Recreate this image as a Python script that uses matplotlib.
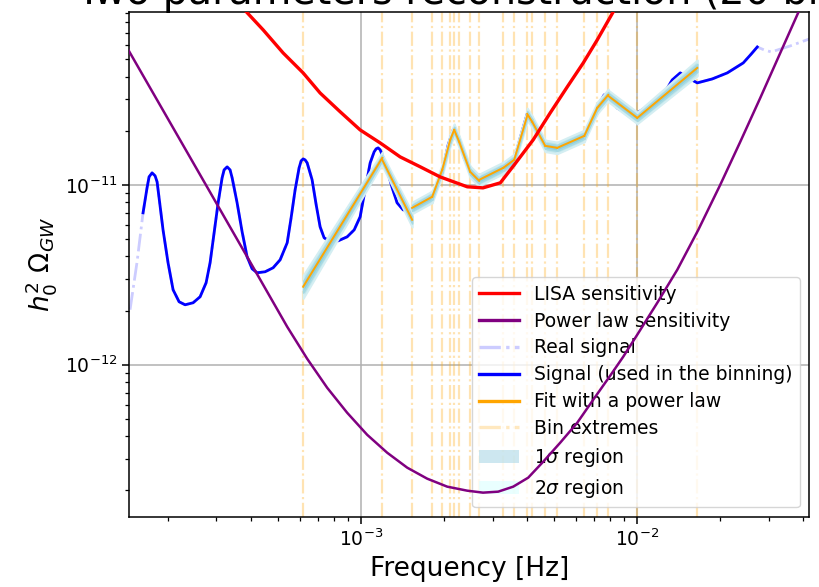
import numpy as np
import matplotlib.pyplot as plt
from matplotlib.patches import Patch
from matplotlib.lines import Line2D

# LISA sensitivity curve (h^2 Omega)
lisa_f = [3.17e-4, 4.43e-4, 5.23e-4, 6.18e-4, 7.12e-4, 8.41e-4, 9.94e-4, 1.175e-3,
          1.388e-3, 1.64e-3, 1.937e-3, 2.43e-3, 2.77e-3, 3.20e-3, 3.62e-3, 4.21e-3,
          4.85e-3, 5.59e-3, 6.39e-3, 7.18e-3, 8.20e-3, 9.07e-3]
lisa_om = [1.26e-10, 7.26e-11, 5.41e-11, 4.19e-11, 3.24e-11, 2.55e-11, 2.02e-11, 1.71e-11,
           1.43e-11, 1.26e-11, 1.107e-11, 9.75e-12, 9.62e-12, 1.026e-11, 1.31e-11, 1.78e-11,
           2.51e-11, 3.50e-11, 4.76e-11, 6.39e-11, 9.14e-11, 1.21e-10]

# power law integrated sensitivity
pls_f = [1.343e-4, 1.459e-4, 2.617e-4, 3.97e-4, 5.41e-4, 6.39e-4, 7.55e-4, 8.92e-4,
         1.054e-3, 1.245e-3, 1.472e-3, 1.739e-3, 2.055e-3, 2.427e-3, 2.77e-3, 3.144e-3,
         3.563e-3, 4.038e-3, 4.576e-3, 5.274e-3, 6.08e-3, 6.945e-3, 8.00e-3, 8.92e-3,
         1.0025e-2, 1.185e-2, 1.40e-2, 1.668e-2, 2.003e-2, 2.367e-2, 2.797e-2, 3.305e-2,
         3.906e-2, 4.426e-2]
pls_om = [6.81e-11, 5.41e-11, 1.137e-11, 3.73e-12, 1.626e-12, 1.08e-12, 7.45e-13, 5.41e-13,
          4.08e-13, 3.245e-13, 2.678e-13, 2.326e-13, 2.10e-13, 1.995e-13, 1.945e-13, 1.97e-13,
          2.10e-13, 2.356e-13, 2.89e-13, 3.687e-13, 4.762e-13, 6.39e-13, 8.69e-13, 1.108e-12,
          1.468e-12, 2.21e-12, 3.373e-12, 5.62e-12, 1.0e-11, 1.734e-11, 3.043e-11, 5.41e-11,
          9.62e-11, 1.486e-10]

# injected signal
sig_f = [1.459e-4, 1.547e-4, 1.626e-4, 1.681e-4, 1.710e-4, 1.753e-4, 1.798e-4, 1.828e-4,
         1.921e-4, 2.003e-4, 2.089e-4, 2.196e-4, 2.309e-4, 2.468e-4, 2.617e-4, 2.751e-4,
         2.844e-4, 2.941e-4, 3.041e-4, 3.144e-4, 3.197e-4, 3.279e-4, 3.36e-4, 3.418e-4,
         3.563e-4, 3.715e-4, 3.873e-4, 4.038e-4, 4.21e-4, 4.501e-4, 4.811e-4, 5.101e-4,
         5.41e-4, 5.59e-4, 5.78e-4, 5.975e-4, 6.077e-4, 6.18e-4, 6.28e-4, 6.39e-4,
         6.66e-4, 6.89e-4, 7.12e-4, 7.36e-4, 7.74e-4, 8.28e-4, 8.92e-4, 9.46e-4,
         9.94e-4, 1.036e-3, 1.081e-3, 1.117e-3, 1.136e-3, 1.155e-3, 1.175e-3, 1.195e-3,
         1.245e-3, 1.299e-3, 1.353e-3, 1.423e-3, 1.534e-3, 1.668e-3, 1.813e-3, 1.971e-3,
         2.072e-3, 2.160e-3, 2.252e-3, 2.367e-3, 2.489e-3, 2.683e-3, 2.966e-3, 3.279e-3,
         3.593e-3, 3.778e-3, 4.004e-3, 4.175e-3, 4.426e-3, 4.654e-3, 5.143e-3, 5.78e-3,
         6.445e-3, 6.83e-3, 7.18e-3, 7.61e-3, 7.87e-3, 8.48e-3, 9.22e-3, 1.0025e-2,
         1.117e-2, 1.245e-2, 1.342e-2, 1.435e-2, 1.534e-2, 1.654e-2, 1.875e-2, 2.124e-2,
         2.427e-2, 2.595e-2, 2.728e-2, 2.892e-2, 3.066e-2, 3.593e-2, 4.21e-2]
sig_om = [2.023e-12, 3.735e-12, 6.99e-12, 9.62e-12, 1.108e-11, 1.166e-11, 1.122e-11, 1.039e-11,
          5.62e-12, 3.687e-12, 2.61e-12, 2.239e-12, 2.154e-12, 2.21e-12, 2.387e-12, 2.855e-12,
          3.687e-12, 5.41e-12, 7.94e-12, 1.094e-11, 1.211e-11, 1.259e-11, 1.211e-11, 1.094e-11,
          7.94e-12, 5.48e-12, 3.98e-12, 3.415e-12, 3.245e-12, 3.287e-12, 3.459e-12, 3.83e-12,
          4.762e-12, 6.56e-12, 9.38e-12, 1.243e-11, 1.359e-11, 1.394e-11, 1.377e-11, 1.325e-11,
          1.066e-11, 7.74e-12, 5.84e-12, 5.08e-12, 4.825e-12, 4.887e-12, 5.14e-12, 5.62e-12,
          6.64e-12, 9.38e-12, 1.325e-11, 1.525e-11, 1.585e-11, 1.605e-11, 1.565e-11, 1.468e-11,
          1.211e-11, 9.62e-12, 7.94e-12, 7.26e-12, 7.26e-12, 7.74e-12, 8.58e-12, 1.181e-11,
          1.668e-11, 2.021e-11, 1.824e-11, 1.413e-11, 1.181e-11, 1.066e-11, 1.151e-11, 1.243e-11,
          1.377e-11, 1.824e-11, 2.480e-11, 2.297e-11, 1.896e-11, 1.647e-11, 1.626e-11, 1.734e-11,
          1.896e-11, 2.297e-11, 2.712e-11, 3.162e-11, 3.162e-11, 2.677e-11, 2.480e-11, 2.512e-11,
          2.783e-11, 3.162e-11, 3.831e-11, 4.19e-11, 3.93e-11, 3.687e-11, 3.88e-11, 4.19e-11,
          4.762e-11, 5.34e-11, 5.84e-11, 5.62e-11, 5.48e-11, 5.92e-11, 6.47e-11]
# part of the signal that enters the binning
used_fmin, used_fmax = 1.626e-4, 2.728e-2

# bins and power law fit in each bin
bin_edges = [6.18e-4, 1.195e-3, 1.534e-3, 1.813e-3, 1.971e-3, 2.107e-3, 2.178e-3,
             2.271e-3, 2.489e-3, 2.683e-3, 3.279e-3, 3.593e-3, 4.004e-3, 4.175e-3,
             4.654e-3, 5.143e-3, 6.445e-3, 7.18e-3, 7.87e-3, 1.0025e-2, 1.654e-2]
fit_start = [2.712e-12, 1.377e-11, 7.45e-12, 8.58e-12, 1.211e-11, 1.778e-11, 2.021e-11,
             1.734e-11, 1.181e-11, 1.066e-11, 1.243e-11, 1.377e-11, 2.48e-11, 2.239e-11,
             1.647e-11, 1.605e-11, 1.871e-11, 2.677e-11, 3.122e-11, 2.356e-11]
fit_end = [1.413e-11, 6.39e-12, 8.58e-12, 1.211e-11, 1.778e-11, 2.021e-11, 1.734e-11,
           1.181e-11, 1.052e-11, 1.243e-11, 1.377e-11, 2.417e-11, 2.239e-11, 1.647e-11,
           1.605e-11, 1.871e-11, 2.677e-11, 3.162e-11, 2.356e-11, 4.467e-11]
# 1 sigma error on log10(h^2 Omega) at the two ends of each bin
err_start = [0.032, 0.016, 0.016, 0.016, 0.016, 0.016, 0.016, 0.016, 0.016, 0.016,
             0.016, 0.016, 0.016, 0.016, 0.016, 0.016, 0.016, 0.016, 0.016, 0.016]
err_end = [0.016, 0.020, 0.016, 0.016, 0.016, 0.016, 0.016, 0.016, 0.016, 0.016,
           0.016, 0.016, 0.016, 0.016, 0.016, 0.016, 0.016, 0.016, 0.016, 0.022]


fig = plt.figure(figsize=(8.2, 5.87), dpi=100)
ax = fig.add_axes([0.1577, 0.1198, 0.8289, 0.8598])

for e in bin_edges:
    ax.axvline(e, color='orange', alpha=0.3, ls='-.', lw=1.6, zorder=1)

sig_f = np.array(sig_f)
sig_om = np.array(sig_om)
used = (sig_f >= used_fmin) & (sig_f <= used_fmax)

ax.plot(sig_f, sig_om, color='blue', alpha=0.2, ls='-.', lw=2, zorder=2)
ax.plot(sig_f[used], sig_om[used], color='blue', lw=2, zorder=3)

for i in range(len(fit_start)):
    fx = [bin_edges[i], bin_edges[i + 1]]
    fy = np.array([fit_start[i], fit_end[i]])
    s = np.array([err_start[i], err_end[i]])
    ax.fill_between(fx, fy * 10**(-2 * s), fy * 10**(2 * s), color='#bfe6ec', lw=1.5,
                    edgecolor='#d4eef2', zorder=4)
    ax.fill_between(fx, fy * 10**(-s), fy * 10**(s), color='#90cfdb', lw=1.2,
                    edgecolor='#a6d9e2', zorder=5)
    ax.plot(fx, fy, color='orange', lw=1.4, zorder=6)

ax.plot(lisa_f, lisa_om, color='red', lw=2.4, zorder=7)
ax.plot(pls_f, pls_om, color='purple', lw=1.8, zorder=7)

ax.set_xscale('log')
ax.set_yscale('log')
ax.set_xlim(1.45e-4, 4.2e-2)
ax.set_ylim(1.43e-13, 9.14e-11)
ax.grid(True, which='major', color='#b0b0b0', lw=1.1)
ax.set_axisbelow(True)

ax.tick_params(which='major', length=5, width=1.1, labelsize=13.5)
ax.tick_params(which='minor', length=3, width=0.9)
for sp in ax.spines.values():
    sp.set_linewidth(1.1)

ax.set_xlabel('Frequency [Hz]', fontsize=19)
ax.set_ylabel(r'$h_0^2\ \Omega_{GW}$', fontsize=19)
fig.text(0.583, 0.9932, 'Two parameters reconstruction (20 bins)', fontsize=28.5,
         ha='center', va='baseline')

handles = [
    Line2D([], [], color='red', lw=2.4),
    Line2D([], [], color='purple', lw=2.4),
    Line2D([], [], color='blue', alpha=0.2, ls='-.', lw=2.4),
    Line2D([], [], color='blue', lw=2.4),
    Line2D([], [], color='orange', lw=2.4),
    Line2D([], [], color='orange', alpha=0.25, ls='-.', lw=2.4),
    Patch(facecolor='lightblue', alpha=0.6),
    Patch(facecolor='lightcyan', alpha=0.7),
]
labels = ['LISA sensitivity', 'Power law sensitivity', 'Real signal',
          'Signal (used in the binning)', 'Fit with a power law', 'Bin extremes',
          r'$1\sigma$ region', r'$2\sigma$ region']
ax.legend(handles, labels, loc='lower right', fontsize=13.5, labelspacing=0.42,
          framealpha=0.8, handlelength=2.1)

fig.savefig('out.png', dpi=100)
